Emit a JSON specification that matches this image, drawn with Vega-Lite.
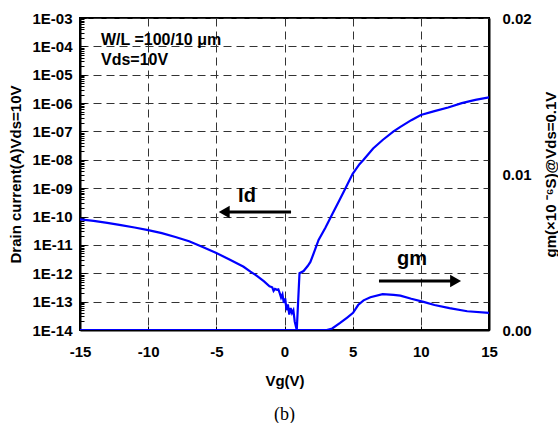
{
  "$schema": "https://vega.github.io/schema/vega-lite/v6.json",
  "width": 409,
  "height": 312,
  "autosize": {"type": "none"},
  "padding": {"left": 80, "top": 18, "right": 69, "bottom": 93},
  "background": "white",
  "config": {
    "view": {"stroke": "black", "strokeWidth": 2},
    "font": "Liberation Sans",
    "axis": {
      "domainColor": "black",
      "domainWidth": 2,
      "tickColor": "black",
      "labelColor": "black",
      "labelFont": "Liberation Sans",
      "labelFontWeight": "bold",
      "labelFontSize": 15,
      "titleFont": "Liberation Sans",
      "titleFontWeight": "bold",
      "titleFontSize": 15,
      "titleColor": "black",
      "gridColor": "#333333",
      "gridDash": [8, 5],
      "gridWidth": 1,
      "labelOverlap": false,
      "labelFlush": false
    }
  },
  "title": {
    "text": "(b)",
    "orient": "bottom",
    "font": "Liberation Serif",
    "fontSize": 18,
    "fontWeight": "normal",
    "color": "black",
    "offset": 18
  },
  "datasets": {
    "id": [
      {"x": -15, "y": 8.0e-11}, {"x": -14, "y": 7.0e-11}, {"x": -13, "y": 6.0e-11}, {"x": -12, "y": 5.0e-11},
      {"x": -11, "y": 4.1e-11}, {"x": -10, "y": 3.3e-11}, {"x": -9, "y": 2.6e-11}, {"x": -8, "y": 1.9e-11},
      {"x": -7, "y": 1.35e-11}, {"x": -6, "y": 8.5e-12}, {"x": -5, "y": 5.2e-12}, {"x": -4, "y": 3.0e-12},
      {"x": -3, "y": 1.7e-12}, {"x": -2.5, "y": 1.15e-12}, {"x": -2, "y": 8e-13}, {"x": -1.5, "y": 5.2e-13},
      {"x": -1.1, "y": 3.5e-13}, {"x": -0.9, "y": 3.2e-13}, {"x": -0.8, "y": 2.4e-13}, {"x": -0.7, "y": 2.8e-13},
      {"x": -0.55, "y": 2.6e-13}, {"x": -0.45, "y": 2.7e-13}, {"x": -0.35, "y": 2.0e-13}, {"x": -0.25, "y": 1.4e-13},
      {"x": -0.15, "y": 1.8e-13}, {"x": -0.05, "y": 9e-14}, {"x": 0.05, "y": 1.3e-13}, {"x": 0.15, "y": 5e-14},
      {"x": 0.25, "y": 8e-14}, {"x": 0.35, "y": 3.5e-14}, {"x": 0.45, "y": 6e-14}, {"x": 0.55, "y": 4e-14},
      {"x": 0.65, "y": 5e-14}, {"x": 0.75, "y": 2e-14}, {"x": 0.9, "y": 1e-14}, {"x": 1.1, "y": 1.0e-12},
      {"x": 1.4, "y": 1.2e-12}, {"x": 1.7, "y": 1.8e-12}, {"x": 1.9, "y": 2.5e-12}, {"x": 2.2, "y": 6e-12},
      {"x": 2.5, "y": 1.5e-11}, {"x": 3.0, "y": 4e-11}, {"x": 3.5, "y": 1.2e-10}, {"x": 4.0, "y": 3.5e-10},
      {"x": 4.4, "y": 8.5e-10}, {"x": 5.0, "y": 3.2e-9}, {"x": 5.5, "y": 7e-9}, {"x": 5.8, "y": 1.0e-8},
      {"x": 6.5, "y": 2.5e-8}, {"x": 7.2, "y": 5e-8}, {"x": 8.0, "y": 1e-7}, {"x": 8.5, "y": 1.45e-7},
      {"x": 9.3, "y": 2.5e-7}, {"x": 10, "y": 3.8e-7}, {"x": 11, "y": 5.2e-7}, {"x": 12, "y": 7e-7},
      {"x": 13, "y": 1e-6}, {"x": 14, "y": 1.3e-6}, {"x": 15, "y": 1.6e-6}
    ],
    "gm": [
      {"x": -15, "y": 0}, {"x": 3.1, "y": 0}, {"x": 3.5, "y": 0.0001}, {"x": 4.08, "y": 0.00045},
      {"x": 4.6, "y": 0.0008}, {"x": 5.03, "y": 0.0011}, {"x": 5.4, "y": 0.0016}, {"x": 5.8, "y": 0.0019},
      {"x": 6.3, "y": 0.0021}, {"x": 7.2, "y": 0.0023}, {"x": 8.0, "y": 0.00225}, {"x": 8.5, "y": 0.0022},
      {"x": 9.3, "y": 0.002}, {"x": 10.2, "y": 0.0018}, {"x": 11, "y": 0.0016}, {"x": 12.1, "y": 0.0014},
      {"x": 13.4, "y": 0.0012}, {"x": 15, "y": 0.0011}
    ],
    "idNotes": [
      {"x": -13.46, "y": 1.117e-4, "label": "W/L =100/10 μm"},
      {"x": -13.46, "y": 2.2e-5, "label": "Vds=10V"}
    ],
    "idLabel": [{"x": -2.75, "y": 3.33e-10, "label": "Id"}],
    "idArrow": [{"x": -4.4, "x2": 0.48, "y": 1.445e-10}],
    "idHead": [{"x": -4.42, "y": 1.445e-10}],
    "gmLabel": [{"x": 9.35, "y": 0.00417, "label": "gm"}],
    "gmArrow": [{"x": 6.93, "x2": 12.5, "y": 0.00314}],
    "gmHead": [{"x": 12.55, "y": 0.00314}]
  },
  "encoding": {
    "x": {
      "field": "x",
      "type": "quantitative",
      "scale": {"domain": [-15, 15], "nice": false, "zero": false},
      "axis": {
        "values": [-15, -10, -5, 0, 5, 10, 15],
        "labelExpr": "replace(datum.label, '−', '-')",
        "title": "Vg(V)",
        "tickSize": -4,
        "labelPadding": 18,
        "titlePadding": 14,
        "grid": true
      }
    }
  },
  "layer": [
    {
      "encoding": {
        "y": {
          "field": "y",
          "type": "quantitative",
          "scale": {"type": "log", "domain": [1e-14, 1e-3], "nice": false},
          "axis": {
            "orient": "left",
            "title": "Drain current(A)Vds=10V",
            "titlePadding": 8,
            "values": [1e-14,2e-14,3e-14,4e-14,5e-14,6e-14,7e-14,8e-14,9e-14,
                       1e-13,2e-13,3e-13,4e-13,5e-13,6e-13,7e-13,8e-13,9e-13,
                       1e-12,2e-12,3e-12,4e-12,5e-12,6e-12,7e-12,8e-12,9e-12,
                       1e-11,2e-11,3e-11,4e-11,5e-11,6e-11,7e-11,8e-11,9e-11,
                       1e-10,2e-10,3e-10,4e-10,5e-10,6e-10,7e-10,8e-10,9e-10,
                       1e-9,2e-9,3e-9,4e-9,5e-9,6e-9,7e-9,8e-9,9e-9,
                       1e-8,2e-8,3e-8,4e-8,5e-8,6e-8,7e-8,8e-8,9e-8,
                       1e-7,2e-7,3e-7,4e-7,5e-7,6e-7,7e-7,8e-7,9e-7,
                       1e-6,2e-6,3e-6,4e-6,5e-6,6e-6,7e-6,8e-6,9e-6,
                       1e-5,2e-5,3e-5,4e-5,5e-5,6e-5,7e-5,8e-5,9e-5,
                       1e-4,2e-4,3e-4,4e-4,5e-4,6e-4,7e-4,8e-4,9e-4,1e-3],
            "labelExpr": "abs(log(datum.value)/LN10 - round(log(datum.value)/LN10)) < 0.001 ? '1E-' + (round(-log(datum.value)/LN10) < 10 ? '0' : '') + round(-log(datum.value)/LN10) : ''",
            "grid": true,
            "gridOpacity": {"condition": {"test": "abs(log(datum.value)/LN10 - round(log(datum.value)/LN10)) < 0.001", "value": 1}, "value": 0},
            "tickSize": {"condition": {"test": "abs(log(datum.value)/LN10 - round(log(datum.value)/LN10)) < 0.001", "value": -6}, "value": -4},
            "labelPadding": 14
          }
        }
      },
      "layer": [
        {
          "data": {"name": "id"},
          "mark": {"type": "line", "color": "#0000FF", "strokeWidth": 2.2, "clip": true}
        },
        {
          "data": {"name": "idNotes"},
          "mark": {"type": "text", "align": "left", "baseline": "alphabetic", "font": "Liberation Sans", "fontWeight": "bold", "fontSize": 16, "color": "black"},
          "encoding": {"text": {"field": "label"}}
        },
        {
          "data": {"name": "idLabel"},
          "mark": {"type": "text", "align": "center", "baseline": "alphabetic", "font": "Liberation Sans", "fontWeight": "bold", "fontSize": 20, "color": "black"},
          "encoding": {"text": {"field": "label"}}
        },
        {
          "data": {"name": "idArrow"},
          "mark": {"type": "rule", "color": "black", "strokeWidth": 3},
          "encoding": {"x2": {"field": "x2"}}
        },
        {
          "data": {"name": "idHead"},
          "mark": {"type": "point", "shape": "triangle-left", "filled": true, "color": "black", "size": 160, "opacity": 1}
        }
      ]
    },
    {
      "encoding": {
        "y": {
          "field": "y",
          "type": "quantitative",
          "scale": {"domain": [0, 0.02], "nice": false},
          "axis": {
            "orient": "right",
            "values": [0, 0.01, 0.02],
            "format": ".2f",
            "title": "gm(×10 ⁻⁶S)@Vds=0.1V",
            "titleAngle": 270,
            "titlePadding": 27,
            "ticks": false,
            "labelPadding": 13,
            "grid": false
          }
        }
      },
      "layer": [
        {
          "data": {"name": "gm"},
          "mark": {"type": "line", "color": "#0000FF", "strokeWidth": 2.2, "clip": true}
        },
        {
          "data": {"name": "gmLabel"},
          "mark": {"type": "text", "align": "center", "baseline": "alphabetic", "font": "Liberation Sans", "fontWeight": "bold", "fontSize": 20, "color": "black"},
          "encoding": {"text": {"field": "label"}}
        },
        {
          "data": {"name": "gmArrow"},
          "mark": {"type": "rule", "color": "black", "strokeWidth": 3},
          "encoding": {"x2": {"field": "x2"}}
        },
        {
          "data": {"name": "gmHead"},
          "mark": {"type": "point", "shape": "triangle-right", "filled": true, "color": "black", "size": 160, "opacity": 1}
        }
      ]
    }
  ],
  "resolve": {"scale": {"y": "independent"}}
}
